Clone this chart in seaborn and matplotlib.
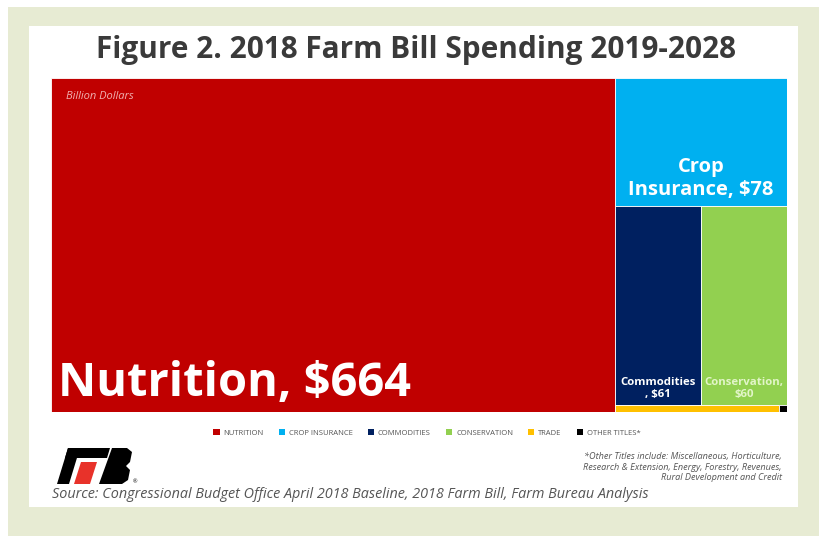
import matplotlib
matplotlib.use("Agg")
import matplotlib.pyplot as plt
from matplotlib.patches import Patch, Polygon, Rectangle
import seaborn as sns

# Farm bill spending 2019-2028, billion dollars
categories = ["Nutrition", "Crop Insurance", "Commodities", "Conservation", "Trade", "Other Titles*"]
spending = [664, 78, 61, 60, 4.0, 0.2]
colors = ["#c00000", "#00b0f0", "#002060", "#92d050", "#ffc000", "#000000"]
tile_labels = ["Nutrition, $664", "Crop\nInsurance, $78", "Commodities\n, $61", "Conservation,\n$60", "", ""]

# grouping of the treemap: first group is a full-height column, the rest stack as rows
groups = [[0], [1], [2, 3], [4, 5]]

sns.set_theme(style="white")
plt.rcParams["font.family"] = ["Open Sans", "DejaVu Sans"]

W, H = 1.0, 1.0
fig = plt.figure(figsize=(8.2, 5.36), dpi=100)
fig.patch.set_facecolor("white")

# outer frame and white card
fig.patches.append(Rectangle((8 / 820, 0), 812 / 820, 529 / 536, transform=fig.transFigure,
                             facecolor="#e7ebd3", edgecolor="none", zorder=-3))
fig.patches.append(Rectangle((29 / 820, 1 - 507 / 536), (798 - 29) / 820, (507 - 26) / 536,
                             transform=fig.transFigure, facecolor="white", edgecolor="none", zorder=-2))

ax = fig.add_axes([51 / 820, 1 - 412 / 536, (787 - 51) / 820, (412 - 78) / 536])
ax.set_xlim(0, W)
ax.set_ylim(H, 0)
ax.axis("off")

total = sum(spending)
rects = {}
first = groups[0]
col_w = W * sum(spending[i] for i in first) / total
y = 0.0
for i in first:
    h = H * spending[i] / sum(spending[j] for j in first)
    rects[i] = (0.0, y, col_w, h)
    y += h
rest = sum(spending[i] for g in groups[1:] for i in g)
y = 0.0
for g in groups[1:]:
    gsum = sum(spending[i] for i in g)
    h = H * gsum / rest
    x = col_w
    for i in g:
        w = (W - col_w) * spending[i] / gsum
        rects[i] = (x, y, w, h)
        x += w
    y += h

for i, (x, y0, w, h) in rects.items():
    ax.bar(x, h, width=w, bottom=y0, align="edge", color=colors[i],
           edgecolor="white", linewidth=0.6)

# tile labels
x, y0, w, h = rects[0]
ax.text(x + 0.01, y0 + h - 0.015, tile_labels[0], color="white", fontsize=33.8,
        fontweight="bold", ha="left", va="bottom")
ax.text(x + 0.02, y0 + 0.055, "Billion Dollars", color="#f0b0b0", fontsize=8,
        style="italic", ha="left", va="center")
x, y0, w, h = rects[1]
ax.text(x + w / 2, y0 + h * 0.78, tile_labels[1], color="white", fontsize=14.5,
        fontweight="bold", ha="center", va="center", linespacing=1.2)
x, y0, w, h = rects[2]
ax.text(x + w / 2, y0 + h - 0.05, tile_labels[2], color="white", fontsize=8.2,
        fontweight="bold", ha="center", va="center", linespacing=1.1)
x, y0, w, h = rects[3]
ax.text(x + w / 2, y0 + h - 0.05, tile_labels[3], color="#e2f5c8", fontsize=8.2,
        fontweight="bold", ha="center", va="center", linespacing=1.1)

# title
fig.text(416 / 820, 1 - 50 / 536, "Figure 2. 2018 Farm Bill Spending 2019-2028",
         ha="center", va="center", fontsize=21.4, fontweight="bold", color="#3a3a3a")

# legend
handles = [Patch(facecolor=c, edgecolor="none") for c in colors]
fig.legend(handles, [c.upper() for c in categories], ncol=6, loc="center",
           bbox_to_anchor=(427 / 820, 1 - 433 / 536), frameon=False, fontsize=5.5,
           handlelength=0.8, handleheight=0.8, columnspacing=2.0, handletextpad=0.5,
           labelcolor="#555555")

# footnote and source
fig.text(782 / 820, 1 - 467 / 536,
         "*Other Titles include: Miscellaneous, Horticulture,\n"
         "Research & Extension, Energy, Forestry, Revenues,\n"
         "Rural Development and Credit",
         ha="right", va="center", fontsize=6.6, style="italic", color="#555555",
         linespacing=1.25)
fig.text(52 / 820, 1 - 495 / 536,
         "Source: Congressional Budget Office April 2018 Baseline, 2018 Farm Bill, Farm Bureau Analysis",
         ha="left", va="center", fontsize=10.4, style="italic", color="#555555")

# logo mark
def fp(pts):
    return [(px / 820, 1 - py / 536) for px, py in pts]

logo = [
    (fp([(68, 448), (110, 448), (107, 458), (65, 458)]), "black"),
    (fp([(68, 448), (80, 448), (69, 484), (57, 484)]), "black"),
    (fp([(81, 462), (97, 462), (90, 484), (74, 484)]), "#e8322a"),
    (fp([(112, 448), (127, 448), (132, 452), (130, 462), (126, 466), (130, 470),
         (128, 480), (122, 484), (99, 484)]), "black"),
]
for pts, col in logo:
    fig.patches.append(Polygon(pts, closed=True, transform=fig.transFigure,
                               facecolor=col, edgecolor="none"))
fig.text(133 / 820, 1 - 482 / 536, "®", fontsize=4, color="black", ha="left", va="center")

fig.savefig("out.png", dpi=100)
